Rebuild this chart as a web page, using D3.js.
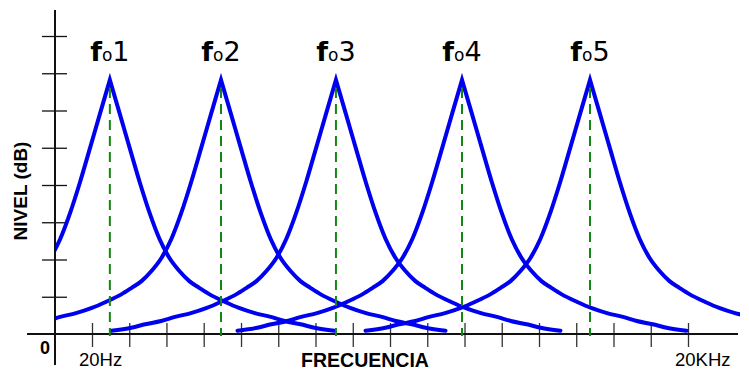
<!DOCTYPE html>
<html>
<head>
<meta charset="utf-8">
<script src="https://cdn.jsdelivr.net/npm/d3@7"></script>
<style>
  body { margin: 0; background: #fff; }
</style>
</head>
<body>
<svg id="chart"></svg>
<script>
// centre frequencies of the five band filters (Hz)
let centers = [24.6, 89.2, 338, 1457, 6424]
let peakNames = ['1', '2', '3', '4', '5']

// one response curve:
// distance from the centre (decades) and level (grid divisions)
let offsets = [0, 0.05, 0.10, 0.15, 0.20, 0.25, 0.30, 0.35, 0.40, 0.45, 0.50, 0.58, 0.65, 0.73, 0.81, 0.88, 0.96, 1.03, 1.13]
let levels = [6.82, 5.91, 4.99, 4.08, 3.25, 2.55, 2.04, 1.69, 1.42, 1.24, 1.07, 0.86, 0.70, 0.56, 0.46, 0.35, 0.26, 0.17, 0.09]

// frequency ticks (Hz) and level ticks
let xTicks = [20, 30.8, 47.4, 73, 112.5, 173.2, 266.7, 410.8, 632.5, 974, 1500, 2309, 3557, 5476, 8434, 12988, 20000]
let xLabels = [{ f: 20, text: '20Hz' }, { f: 20000, text: '20KHz' }]
let yTicks = [1, 2, 3, 4, 5, 6, 7, 8]

let width = 749
let height = 372
let axisX = 55
let axisY = 334

let svg = d3.select('#chart').attr('width', width).attr('height', height)

let x = d3.scaleLog().domain([20, 20000]).range([92, 688])
let y = d3.scaleLinear().domain([0, 8]).range([axisY, 36])

// clip the curves to the plotting area
svg.append('clipPath').attr('id', 'plot')
  .append('rect')
  .attr('x', axisX + 1)
  .attr('y', 0)
  .attr('width', 739 - axisX)
  .attr('height', axisY)

// x axis
let xAxis = svg.append('g')
  .attr('transform', `translate(0,${axisY})`)
  .call(d3.axisBottom(x).tickValues(xTicks).tickFormat('').tickSizeOuter(0))
xAxis.select('.domain').remove()
xAxis.selectAll('.tick line')
  .attr('y1', -11).attr('y2', 13)
  .attr('stroke', '#333').attr('stroke-width', 1.3)
svg.append('line')
  .attr('x1', 27).attr('x2', 738)
  .attr('y1', axisY).attr('y2', axisY)
  .attr('stroke', '#111').attr('stroke-width', 2)

// y axis
let yAxis = svg.append('g')
  .attr('transform', `translate(${axisX},0)`)
  .call(d3.axisLeft(y).tickValues(yTicks).tickFormat('').tickSizeOuter(0))
yAxis.select('.domain').remove()
yAxis.selectAll('.tick line')
  .attr('x1', -13).attr('x2', 12)
  .attr('stroke', '#111').attr('stroke-width', 1.3)
svg.append('line')
  .attr('x1', axisX).attr('x2', axisX)
  .attr('y1', 10).attr('y2', 365)
  .attr('stroke', '#111').attr('stroke-width', 2)

// response curves: each side drawn monotone, joined sharply at the peak
let line = d3.line()
  .x(d => x(d[0]))
  .y(d => y(d[1]))
  .curve(d3.curveMonotoneX)

function curvePath(fc) {
  let left = offsets.map((o, i) => [fc / Math.pow(10, o), levels[i]]).reverse()
  let right = offsets.map((o, i) => [fc * Math.pow(10, o), levels[i]])
  return line(left) + line(right).replace(/^M/, 'L')
}

svg.append('g')
  .attr('clip-path', 'url(#plot)')
  .selectAll('path')
  .data(centers)
  .join('path')
  .attr('d', d => curvePath(d))
  .attr('fill', 'none')
  .attr('stroke', '#0000f0')
  .attr('stroke-width', 4)
  .attr('stroke-linejoin', 'miter')
  .attr('stroke-miterlimit', 10)
  .attr('stroke-linecap', 'round')

// centre frequency markers
svg.append('g')
  .selectAll('line')
  .data(centers)
  .join('line')
  .attr('x1', d => x(d)).attr('x2', d => x(d))
  .attr('y1', y(levels[0]) + 8).attr('y2', axisY + 2)
  .attr('stroke', '#118811')
  .attr('stroke-width', 2)
  .attr('stroke-dasharray', '10,6')

// fo labels
let lab = svg.append('g')
  .selectAll('text')
  .data(centers)
  .join('text')
  .attr('x', d => x(d))
  .attr('y', 61)
  .attr('text-anchor', 'middle')
  .attr('font-family', 'DejaVu Sans, sans-serif')
  .attr('font-size', 27)
  .attr('fill', '#000')
lab.append('tspan').attr('font-weight', 'bold').text('f')
lab.append('tspan').attr('font-size', 17).text('o')
lab.append('tspan').text((d, i) => peakNames[i])

// axis texts
svg.append('text')
  .attr('x', 45).attr('y', 354)
  .attr('text-anchor', 'middle')
  .attr('font-family', 'Liberation Sans, Arial, sans-serif')
  .attr('font-weight', 'bold')
  .attr('font-size', 18)
  .text('0')

svg.append('g')
  .selectAll('text')
  .data(xLabels)
  .join('text')
  .attr('x', d => x(d.f) - 13)
  .attr('y', 366)
  .attr('font-family', 'Liberation Sans, Arial, sans-serif')
  .attr('font-size', 18.5)
  .text(d => d.text)

svg.append('text')
  .attr('x', 365).attr('y', 367)
  .attr('text-anchor', 'middle')
  .attr('font-family', 'Liberation Sans, Arial, sans-serif')
  .attr('font-weight', 'bold')
  .attr('font-size', 19.5)
  .text('FRECUENCIA')

svg.append('text')
  .attr('transform', 'translate(27,191) rotate(-90)')
  .attr('text-anchor', 'middle')
  .attr('font-family', 'Liberation Sans, Arial, sans-serif')
  .attr('font-weight', 'bold')
  .attr('font-size', 19)
  .text('NIVEL (dB)')
</script>
</body>
</html>
